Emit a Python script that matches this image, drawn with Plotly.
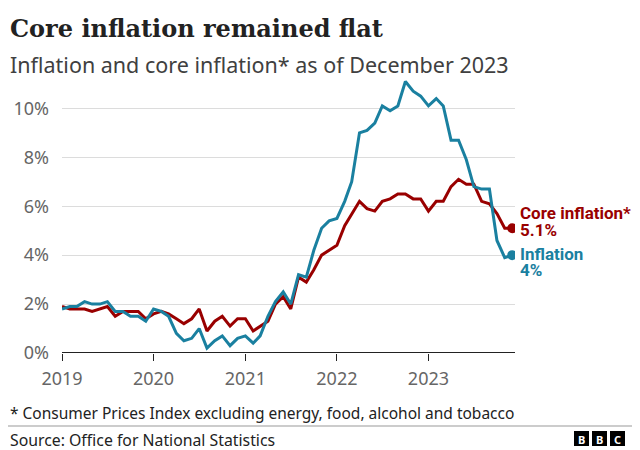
import plotly.graph_objects as go
import pandas as pd

months = pd.date_range("2019-01-01", "2023-12-01", freq="MS")

inflation = [
    1.8, 1.9, 1.9, 2.1, 2.0, 2.0, 2.1, 1.7, 1.7, 1.5, 1.5, 1.3,
    1.8, 1.7, 1.5, 0.8, 0.5, 0.6, 1.0, 0.2, 0.5, 0.7, 0.3, 0.6,
    0.7, 0.4, 0.7, 1.5, 2.1, 2.5, 2.0, 3.2, 3.1, 4.2, 5.1, 5.4,
    5.5, 6.2, 7.0, 9.0, 9.1, 9.4, 10.1, 9.9, 10.1, 11.1, 10.7, 10.5,
    10.1, 10.4, 10.1, 8.7, 8.7, 7.9, 6.8, 6.7, 6.7, 4.6, 3.9, 4.0,
]
core = [
    1.9, 1.8, 1.8, 1.8, 1.7, 1.8, 1.9, 1.5, 1.7, 1.7, 1.7, 1.4,
    1.6, 1.7, 1.6, 1.4, 1.2, 1.4, 1.8, 0.9, 1.3, 1.5, 1.1, 1.4,
    1.4, 0.9, 1.1, 1.3, 2.0, 2.3, 1.8, 3.1, 2.9, 3.4, 4.0, 4.2,
    4.4, 5.2, 5.7, 6.2, 5.9, 5.8, 6.2, 6.3, 6.5, 6.5, 6.3, 6.3,
    5.8, 6.2, 6.2, 6.8, 7.1, 6.9, 6.9, 6.2, 6.1, 5.7, 5.1, 5.1,
]
ytick_vals = [0, 2, 4, 6, 8, 10]
ytick_text = ["0%", "2%", "4%", "6%", "8%", "10%"]
year_ticks = ["2019-01-01", "2020-01-01", "2021-01-01", "2022-01-01", "2023-01-01"]
year_labels = ["2019", "2020", "2021", "2022", "2023"]

RED = "#990000"
BLUE = "#1a80a0"
SANS = "Noto Sans"
LABEL_FONT = "Roboto"

# the page body adds an 8px offset; work in window pixels and convert
OFF = 8
W, H = 640 - OFF, 450 - OFF
PL, PR, PT, PB = 62, 515, 79, 353          # plot area in window pixels
L = PL - OFF
T = PT - OFF
R = W - (PR - OFF)
B = H - (PB - OFF)
PW = PR - PL
PH = PB - PT


def px(x):
    return (x - PL) / PW


def py(y):
    return (PB - y) / PH


fig = go.Figure()
fig.add_trace(go.Scatter(x=months, y=core, mode="lines",
                         line=dict(color=RED, width=3), hoverinfo="skip"))
fig.add_trace(go.Scatter(x=months, y=inflation, mode="lines",
                         line=dict(color=BLUE, width=3), hoverinfo="skip"))
fig.add_trace(go.Scatter(x=[months[-1]], y=[core[-1]], mode="markers",
                         marker=dict(color=RED, size=10), hoverinfo="skip"))
fig.add_trace(go.Scatter(x=[months[-1]], y=[inflation[-1]], mode="markers",
                         marker=dict(color=BLUE, size=10), hoverinfo="skip"))


def text(t, x, y, size, color, family=SANS, anchor="left"):
    return dict(text=t, x=px(x), y=py(y), xref="paper", yref="paper",
                xanchor=anchor, yanchor="middle", showarrow=False,
                font=dict(family=family, size=size, color=color))


ann = [
    text("<b>Core inflation remained flat</b>", 8, 29, 24, "#222222", family="DejaVu Serif"),
    text("Inflation and core inflation* as of December 2023", 8, 65, 21.5, "#404040"),
    text("* Consumer Prices Index excluding energy, food, alcohol and tobacco", 8, 413, 15.5, "#222222"),
    text("Source: Office for National Statistics", 8, 440, 15.8, "#222222"),
    text("<b>Core inflation*</b>", 518, 213, 17, RED, family=LABEL_FONT),
    text("<b>5.1%</b>", 518, 230, 17, RED, family=LABEL_FONT),
    text("<b>Inflation</b>", 518, 254, 17, BLUE, family=LABEL_FONT),
    text("<b>4%</b>", 518, 270, 17, BLUE, family=LABEL_FONT),
]

shapes = []
for i, letter in enumerate(["B", "B", "C"]):
    x0 = 574 + i * 18
    shapes.append(dict(type="rect", xref="paper", yref="paper",
                       x0=px(x0), x1=px(x0 + 15), y0=py(446), y1=py(431),
                       fillcolor="#000000", line=dict(width=0)))
    ann.append(text("<b>%s</b>" % letter, x0 + 7.5, 439, 11, "#ffffff", anchor="center"))
shapes.append(dict(type="line", xref="paper", yref="paper",
                   x0=px(0), x1=px(640), y0=py(426), y1=py(426),
                   line=dict(color="#999999", width=1)))
shapes.append(dict(type="line", xref="paper", yref="y", x0=0, x1=1, y0=0, y1=0,
                   line=dict(color="#222222", width=2), layer="above"))

fig.update_layout(
    width=W, height=H,
    margin=dict(l=L, r=R, t=T, b=B, pad=0, autoexpand=False),
    paper_bgcolor="white", plot_bgcolor="white",
    showlegend=False,
    annotations=ann, shapes=shapes,
    xaxis=dict(
        range=["2019-01-01", "2023-12-12"],
        tickvals=year_ticks, ticktext=year_labels,
        ticks="outside", ticklen=7, tickcolor="#222222", tickwidth=1,
        ticklabelstandoff=2, automargin=False,
        showgrid=False, showline=False, zeroline=False,
        tickfont=dict(family=SANS, size=18, color="#666666"),
    ),
    yaxis=dict(
        range=[0, 11.2],
        tickvals=ytick_vals, ticktext=ytick_text,
        showgrid=True, gridcolor="#dcdcdc", gridwidth=1,
        zeroline=False, showline=False, automargin=False,
        ticks="", ticklabelstandoff=12,
        tickfont=dict(family=SANS, size=18, color="#666666"),
    ),
)

fig.write_html("out.html")
